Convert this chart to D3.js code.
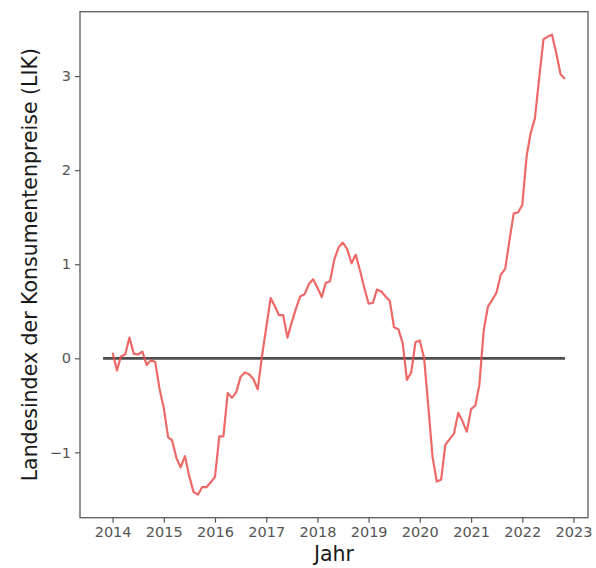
<!DOCTYPE html>
<html>
<head>
<meta charset="utf-8">
<script src="https://cdn.jsdelivr.net/npm/d3@7"></script>
<style>
  html, body { margin: 0; padding: 0; background: #fff; }
  svg { display: block; }
  .tick text { font-family: "DejaVu Sans", sans-serif; font-size: 14.5px; fill: #555; }
  .axis-label { font-family: "DejaVu Sans", sans-serif; font-size: 20.5px; fill: #1a1a1a; }
</style>
</head>
<body>
<svg id="chart" width="596" height="568"></svg>
<script>
// Landesindex der Konsumentenpreise: monthly change vs. previous year (%), Jan–Dec per year
const lik2014 = [0.06, -0.13, 0.02, 0.04, 0.22, 0.05, 0.04, 0.07, -0.07, -0.02, -0.04, -0.32];
const lik2015 = [-0.53, -0.84, -0.87, -1.06, -1.16, -1.04, -1.25, -1.42, -1.45, -1.37, -1.37, -1.32];
const lik2016 = [-1.26, -0.83, -0.83, -0.37, -0.42, -0.36, -0.20, -0.15, -0.17, -0.22, -0.33, 0.02];
const lik2017 = [0.33, 0.64, 0.56, 0.46, 0.46, 0.22, 0.38, 0.53, 0.66, 0.68, 0.79, 0.84];
const lik2018 = [0.75, 0.65, 0.80, 0.82, 1.05, 1.18, 1.23, 1.16, 1.01, 1.10, 0.93, 0.75];
const lik2019 = [0.58, 0.59, 0.73, 0.71, 0.66, 0.61, 0.33, 0.31, 0.16, -0.23, -0.15, 0.17];
const lik2020 = [0.19, 0.00, -0.50, -1.05, -1.31, -1.29, -0.92, -0.86, -0.80, -0.58, -0.67, -0.78];
const lik2021 = [-0.54, -0.50, -0.28, 0.30, 0.55, 0.62, 0.70, 0.89, 0.95, 1.25, 1.54, 1.55];
const lik2022 = [1.63, 2.15, 2.39, 2.55, 2.97, 3.39, 3.42, 3.44, 3.24, 3.02, 2.97];

const years = [2014, 2015, 2016, 2017, 2018, 2019, 2020, 2021, 2022];
const likByYear = [lik2014, lik2015, lik2016, lik2017, lik2018, lik2019, lik2020, lik2021, lik2022];

// Horizontal reference at zero
const refValue = 0;
const refStart = new Date(2013, 9, 25);
const refEnd = new Date(2022, 10, 1);

const xTickYears = [2014, 2015, 2016, 2017, 2018, 2019, 2020, 2021, 2022, 2023];
const yTicks = [-1, 0, 1, 2, 3];

const series = [];
years.forEach((yr, i) => {
  likByYear[i].forEach((v, m) => series.push({ date: new Date(yr, m, 1), value: v }));
});

const svg = d3.select("#chart");
const W = +svg.attr("width"), H = +svg.attr("height");
const margin = { top: 11.7, right: 8, bottom: 50.3, left: 80 };
const w = W - margin.left - margin.right;
const h = H - margin.top - margin.bottom;
const g = svg.append("g").attr("transform", `translate(${margin.left},${margin.top})`);

// 5% padding around the drawn extent on both axes
function padded(lo, hi) {
  const p = (hi - lo) * 0.05;
  return [lo - p, hi + p];
}
const tExtent = [refStart, refEnd].map(d => +d);
const xDom = padded(tExtent[0], tExtent[1]).map(t => new Date(t));
const vExtent = d3.extent(series, d => d.value);
const yDom = padded(Math.min(vExtent[0], refValue), Math.max(vExtent[1], refValue));

const x = d3.scaleTime().domain(xDom).range([0, w]);
const y = d3.scaleLinear().domain(yDom).range([h, 0]);

// Axes
const xAxis = d3.axisBottom(x)
  .tickValues(xTickYears.map(yr => new Date(yr, 0, 1)))
  .tickFormat(d3.timeFormat("%Y"))
  .tickSize(5).tickPadding(4);
const yAxis = d3.axisLeft(y)
  .tickValues(yTicks)
  .tickFormat(d3.format("d"))
  .tickSize(5).tickPadding(4);

const gx = g.append("g").attr("transform", `translate(0,${h})`).call(xAxis);
const gy = g.append("g").call(yAxis);
[gx, gy].forEach(a => {
  a.select(".domain").remove();
  a.selectAll(".tick line").attr("stroke", "#555").attr("stroke-width", 1.2);
});

// Reference line
g.append("line")
  .attr("x1", x(refStart)).attr("x2", x(refEnd))
  .attr("y1", y(refValue)).attr("y2", y(refValue))
  .attr("stroke", "#222").attr("stroke-opacity", 0.8)
  .attr("stroke-width", 2.8);

// Inflation series
const line = d3.line().x(d => x(d.date)).y(d => y(d.value));
g.append("path")
  .datum(series)
  .attr("fill", "none")
  .attr("stroke", "#ea4f4c")
  .attr("stroke-opacity", 0.85)
  .attr("stroke-width", 2.2)
  .attr("stroke-linejoin", "round")
  .attr("d", line);

// Frame
g.append("rect")
  .attr("x", 0).attr("y", 0).attr("width", w).attr("height", h)
  .attr("fill", "none").attr("stroke", "#666").attr("stroke-width", 1.4);

// Axis titles
svg.append("text")
  .attr("class", "axis-label")
  .attr("x", margin.left + w / 2).attr("y", 561)
  .attr("text-anchor", "middle")
  .text("Jahr");

svg.append("text")
  .attr("class", "axis-label")
  .attr("transform", `translate(37,${margin.top + h / 2}) rotate(-90)`)
  .attr("text-anchor", "middle")
  .text("Landesindex der Konsumentenpreise (LIK)");
</script>
</body>
</html>
